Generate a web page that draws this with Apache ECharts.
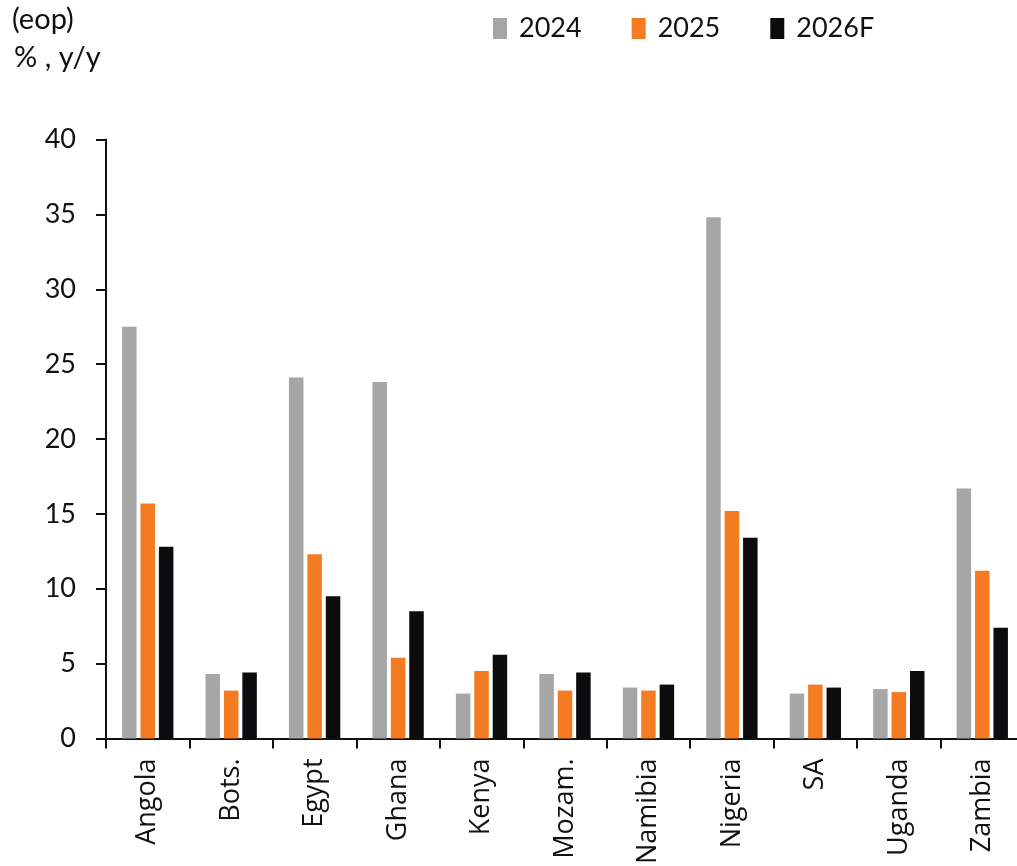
<!DOCTYPE html>
<html>
<head>
<meta charset="utf-8">
<script src="https://cdn.jsdelivr.net/npm/echarts@6/dist/echarts.min.js"></script>
<style>
  html, body { margin: 0; padding: 0; background: #fff; }
  #chart { width: 1017px; height: 866px; }
</style>
</head>
<body>
<div id="chart"></div>
<script>
// Inflation, end of period, % y/y
const categories = ['Angola', 'Bots.', 'Egypt', 'Ghana', 'Kenya', 'Mozam.', 'Namibia', 'Nigeria', 'SA', 'Uganda', 'Zambia'];
const values2024 = [27.5, 4.3, 24.1, 23.8, 3.0, 4.3, 3.4, 34.8, 3.0, 3.3, 16.7];
const values2025 = [15.7, 3.2, 12.3, 5.4, 4.5, 3.2, 3.2, 15.2, 3.6, 3.1, 11.2];
const values2026F = [12.8, 4.4, 9.5, 8.5, 5.6, 4.4, 3.6, 13.4, 3.4, 4.5, 7.4];
const seriesNames = ['2024', '2025', '2026F'];
const yTicks = [0, 5, 10, 15, 20, 25, 30, 35, 40];

const colors = ['#A6A6A6', '#F47B22', '#0C0C0E'];
const textColor = '#111111';
const axisColor = '#111111';

const chart = echarts.init(document.getElementById('chart'), null, { renderer: 'canvas' });

const seriesData = [values2024, values2025, values2026F];

chart.setOption({
  animation: false,
  backgroundColor: '#ffffff',
  textStyle: { fontFamily: 'Lato', color: textColor },
  graphic: [
    { type: 'text', left: 12, top: 5, style: { text: '(eop)', fontFamily: 'Lato', fontSize: 29, fill: textColor } },
    { type: 'text', left: 14, top: 43, style: { text: '% , y/y', fontFamily: 'Lato', fontSize: 29, fill: textColor } }
  ],
  legend: {
    top: 10,
    left: 488,
    itemWidth: 14,
    itemHeight: 21,
    itemGap: 50,
    icon: 'rect',
    textStyle: { fontFamily: 'Lato', fontSize: 27, color: textColor, padding: [0, 0, 0, 7] },
    data: seriesNames
  },
  grid: {
    left: 106, right: -7, top: 139.5, bottom: 127.5,
    containLabel: false,
    outerBoundsMode: 'none'
  },
  xAxis: {
    type: 'category',
    data: categories,
    axisLine: { show: true, lineStyle: { color: axisColor, width: 2 } },
    axisTick: { show: true, alignWithLabel: false, length: 10, lineStyle: { color: axisColor, width: 2 } },
    axisLabel: {
      rotate: 90,
      margin: 20,
      interval: 0,
      fontFamily: 'Open Sans',
      fontSize: 27,
      color: textColor
    },
    splitLine: { show: false }
  },
  yAxis: {
    type: 'value',
    min: yTicks[0],
    max: yTicks[yTicks.length - 1],
    interval: yTicks[1] - yTicks[0],
    axisLine: { show: true, lineStyle: { color: axisColor, width: 2 } },
    axisTick: { show: true, length: 10, lineStyle: { color: axisColor, width: 2 } },
    axisLabel: { margin: 30, fontFamily: 'Lato', fontSize: 27, color: textColor },
    splitLine: { show: false }
  },
  series: seriesNames.map((name, i) => ({
    name: name,
    type: 'bar',
    data: seriesData[i],
    barWidth: 14.5,
    barGap: '27%',
    itemStyle: { color: colors[i] }
  }))
});
</script>
</body>
</html>
